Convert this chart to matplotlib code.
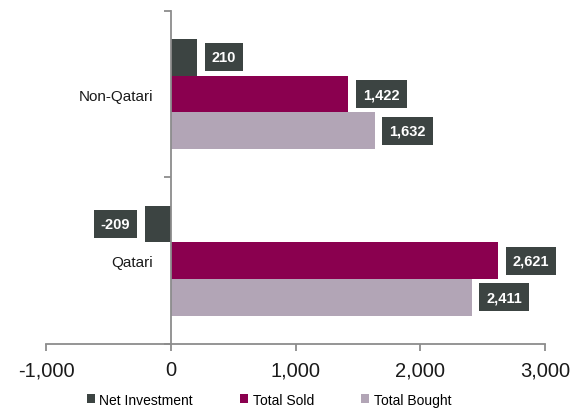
import matplotlib.pyplot as plt
from matplotlib.patches import Patch

plt.rcParams["font.family"] = ["Liberation Sans", "DejaVu Sans"]

# data
categories = ["Qatari", "Non-Qatari"]
net_investment = [-209, 210]
total_sold = [2621, 1422]
total_bought = [2411, 1632]
series_names = ["Net Investment", "Total Sold", "Total Bought"]
x_ticks = [-1000, 0, 1000, 2000, 3000]

c_net = "#3c4442"
c_sold = "#8a004f"
c_bought = "#b2a5b6"
axis_gray = "#8c8c8c"

fig = plt.figure(figsize=(5.82, 4.10), dpi=100)
ax = fig.add_axes([0.079, 0.159, 0.858, 0.812])

h = 0.22
ypos = list(range(len(categories)))
series = [(net_investment, c_net, h), (total_sold, c_sold, 0), (total_bought, c_bought, -h)]
for vals, col, off in series:
    bars = ax.barh([y + off for y in ypos], vals, height=h, color=col)
    for b, v in zip(bars, vals):
        yc = b.get_y() + b.get_height() / 2
        side = 1 if v >= 0 else -1
        ax.annotate(f"{v:,}", xy=(v, yc), xytext=(10.5 * side, 0), textcoords="offset points",
                    ha="left" if v >= 0 else "right", va="center", color="white",
                    fontsize=10.5, fontweight="bold",
                    bbox=dict(boxstyle="square,pad=0.48", fc=c_net, ec="none"))

ax.set_xlim(-1000, 3000)
ax.set_ylim(-0.5, 1.5)
ax.set_xticks(x_ticks)
ax.set_xticklabels([f"{t:,}" for t in x_ticks])
ax.set_yticks(ypos)
ax.set_yticklabels(categories)
ax.set_yticks([-0.5, 0.5, 1.5], minor=True)
ax.tick_params(axis="y", which="major", length=0, pad=13, labelsize=11, labelcolor="#1a1a1a")
ax.tick_params(axis="y", which="minor", length=5, width=1.3, color=axis_gray)
ax.tick_params(axis="x", length=5, width=1.3, color=axis_gray, pad=7, labelsize=14.5,
               labelcolor="#1a1a1a")

for s in ["top", "right"]:
    ax.spines[s].set_visible(False)
ax.spines["bottom"].set_color(axis_gray)
ax.spines["bottom"].set_linewidth(1.3)
ax.spines["left"].set_position(("data", 0))
ax.spines["left"].set_color(axis_gray)
ax.spines["left"].set_linewidth(1.3)
ax.spines["left"].set_zorder(3)

handles = [Patch(facecolor=c, label=n) for c, n in zip([c_net, c_sold, c_bought], series_names)]
fig.legend(handles=handles, loc="lower center", ncol=3, frameon=False, fontsize=10,
           bbox_to_anchor=(0.462, -0.025), handlelength=0.6, handleheight=0.6,
           handletextpad=0.3, columnspacing=3.4)

fig.savefig("out.png", dpi=100)
